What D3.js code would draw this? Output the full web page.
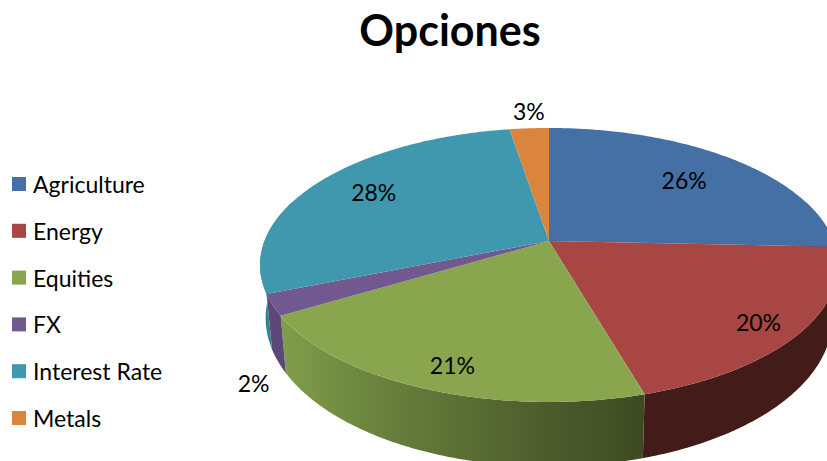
<!DOCTYPE html>
<html>
<head>
<meta charset="utf-8">
<title>Opciones</title>
<script src="https://cdn.jsdelivr.net/npm/d3@7"></script>
<style>
  html, body { margin: 0; padding: 0; background: #fff; overflow: hidden; }
  text { font-family: Lato, "Open Sans", sans-serif; fill: #000; }
</style>
</head>
<body>
<div id="chart"></div>
<script>
// datos
const categorias = ["Agriculture", "Energy", "Equities", "FX", "Interest Rate", "Metals"];
const valores = [25.7, 19.8, 20.95, 2.49, 28.49, 2.6];
const colores = ["#4470a5", "#a84644", "#89a54e", "#71588f", "#4098ae", "#db843d"];
const coloresLado = ["#2f4d72", "#431c19", "url(#ladoVerde)", "#5c4878", "#37808f", "#a86530"];
const titulo = "Opciones";

const width = 827, height = 461;

// perspectiva del disco: k inclina, arriba = tapa, abajo = base
const k = -0.175;
const tapa = { cx: 549, cy: 241, rx: 284.5, ry: 132.8 };
const base = { cx: 549, cy: 292, rx: 279, ry: 144 };

function proyectar(disco, ang, f = 1) {
  const u = Math.sin(ang) * f, v = -Math.cos(ang) * f;
  const w = 1 + k * v;
  return [disco.cx + disco.rx * u / w, disco.cy + disco.ry * v / w];
}

function arco(disco, a0, a1) {
  const n = Math.max(2, Math.ceil(Math.abs(a1 - a0) / 0.01));
  return d3.range(n + 1).map(i => proyectar(disco, a0 + (a1 - a0) * i / n));
}

const svg = d3.select("#chart").append("svg")
  .attr("width", width).attr("height", height)
  .attr("viewBox", `0 0 ${width} ${height}`)
  .style("display", "block");

const grad = svg.append("defs").append("linearGradient")
  .attr("id", "ladoVerde")
  .attr("gradientUnits", "userSpaceOnUse")
  .attr("x1", 285).attr("x2", 648).attr("y1", 0).attr("y2", 0);
grad.selectAll("stop")
  .data([[0, "#7f9c4a"], [0.3, "#677e3c"], [0.75, "#4b5a2b"], [1, "#3d4a22"]])
  .join("stop")
  .attr("offset", d => d[0])
  .attr("stop-color", d => d[1]);

const pie = d3.pie().sort(null).value(d => d.valor);
const rebanadas = pie(categorias.map((c, i) => ({ nombre: c, valor: valores[i], i })));
const linea = d3.line();
const total = d3.sum(valores);
const fmt = d3.format(".0%");

// Lados: solo la parte visible, de 90 a 280 grados aprox
const lados = rebanadas.map(d => {
  const a0 = Math.max(d.startAngle, Math.PI * 0.4);
  const a1 = Math.min(d.endAngle, Math.PI * 1.6);
  return { d, a0, a1 };
}).filter(s => s.a1 > s.a0);

svg.append("g").selectAll("path")
  .data(lados)
  .join("path")
  .attr("fill", s => coloresLado[s.d.data.i])
  .attr("d", s => linea(arco(tapa, s.a0, s.a1).concat(arco(base, s.a1, s.a0))) + "Z");

// Tapa
svg.append("g").selectAll("path")
  .data(rebanadas)
  .join("path")
  .attr("fill", d => colores[d.data.i])
  .attr("d", d => linea([[tapa.cx, tapa.cy]].concat(arco(tapa, d.startAngle, d.endAngle))) + "Z");

// Etiquetas: f = fraccion del radio, mas un ajuste fino en px
const etiquetaF = [0.72, 0.85, 0.85, 1, 0.73, 1.15];
const etiquetaAjuste = [[-1, 1], [0, 5], [6, 3], [-19, 79], [-5, -3], [2, -2]];

svg.append("g").selectAll("text")
  .data(rebanadas)
  .join("text")
  .attr("text-anchor", "middle")
  .attr("dy", "0.35em")
  .attr("font-size", 23)
  .attr("transform", d => {
    const i = d.data.i;
    const p = proyectar(tapa, (d.startAngle + d.endAngle) / 2, etiquetaF[i]);
    return `translate(${p[0] + etiquetaAjuste[i][0]},${p[1] + etiquetaAjuste[i][1]})`;
  })
  .text(d => fmt(d.data.valor / total));

// Titulo
svg.append("text")
  .attr("x", 450).attr("y", 46)
  .attr("text-anchor", "middle")
  .attr("font-size", 43)
  .attr("font-weight", 700)
  .text(titulo);

// Leyenda
const yLeyenda = d3.scalePoint().domain(categorias).range([184, 418]);
const leyenda = svg.append("g").selectAll("g")
  .data(categorias)
  .join("g")
  .attr("transform", c => `translate(12,${yLeyenda(c)})`);
leyenda.append("rect")
  .attr("y", -7).attr("width", 14).attr("height", 14)
  .attr("fill", (c, i) => colores[i]);
leyenda.append("text")
  .attr("x", 21).attr("y", 1).attr("dy", "0.35em")
  .attr("font-size", 23)
  .text(c => c);
</script>
</body>
</html>
